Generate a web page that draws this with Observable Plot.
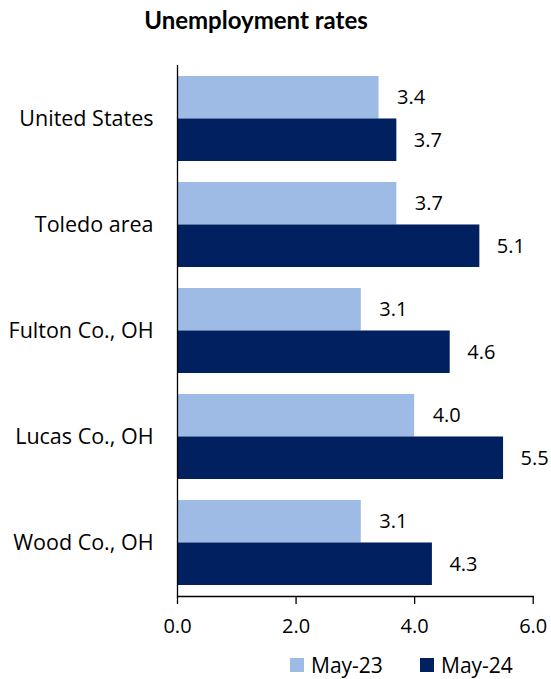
<!DOCTYPE html>
<html>
<head>
<meta charset="utf-8">
<script src="https://cdn.jsdelivr.net/npm/d3@7"></script>
<script src="https://cdn.jsdelivr.net/npm/@observablehq/plot@0.6"></script>
<style>
  body { margin: 0; background: #fff; }
  #wrap { position: relative; width: 551px; height: 679px; background: #fff; }
  #title { position: absolute; left: 0; top: 0; width: 512px; text-align: center;
           font-family: Lato, sans-serif; font-weight: bold; font-size: 24px; line-height: 40px; color: #000; }
  #chart { position: absolute; left: 0; top: 50px; }
  #legend { position: absolute; left: 0; top: 650px; width: 551px; height: 30px;
            font-family: "Open Sans", sans-serif; font-size: 21px; color: #000; }
  .item { position: absolute; top: 0; height: 30px; line-height: 30px; display: flex; align-items: center; }
  .sw { width: 14px; height: 14px; margin-right: 7px; }
</style>
</head>
<body>
<div id="wrap">
  <div id="title">Unemployment rates</div>
  <div id="chart"></div>
  <div id="legend"></div>
</div>
<script>
const categories = ["United States", "Toledo area", "Fulton Co., OH", "Lucas Co., OH", "Wood Co., OH"];
const series = ["May-23", "May-24"];
const may23 = [3.4, 3.7, 3.1, 4.0, 3.1];
const may24 = [3.7, 5.1, 4.6, 5.5, 4.3];
const xTicks = [0, 2, 4, 6];
const colors = ["#9dbbe4", "#002060"];

const data23 = categories.map((c, i) => ({area: c, series: series[0], value: may23[i]}));
const data24 = categories.map((c, i) => ({area: c, series: series[1], value: may24[i]}));

const W = 551, H = 600, mt = 15, mb = 54, ml = 177, mr = 18.3;
const pInner = 0.2, pOuter = 0.1;
const step = (H - mt - mb) / (categories.length - pInner + 2 * pOuter);
const bw = step * (1 - pInner);
const half = bw / 2;

const chart = Plot.plot({
  width: W, height: H,
  marginTop: mt, marginBottom: mb, marginLeft: ml, marginRight: mr,
  style: {fontFamily: "'Open Sans', sans-serif", fontSize: "20px", color: "#000", background: "#fff"},
  x: {domain: [0, 6], axis: null},
  y: {domain: categories, paddingInner: pInner, paddingOuter: pOuter, axis: null},
  marks: [
    Plot.barX(data23, {x: "value", y: "area", fill: colors[0], insetBottom: half}),
    Plot.barX(data24, {x: "value", y: "area", fill: colors[1], insetTop: half}),
    Plot.text(data23, {x: "value", y: "area", text: d => d.value.toFixed(1), textAnchor: "start", dx: 18, dy: -half / 2, fill: "#000"}),
    Plot.text(data24, {x: "value", y: "area", text: d => d.value.toFixed(1), textAnchor: "start", dx: 17, dy: half / 2, fill: "#000"}),
    Plot.ruleX([0], {stroke: "#000", strokeWidth: 1.3}),
    Plot.frame({anchor: "bottom", stroke: "#000", strokeWidth: 1.3}),
    Plot.axisX({ticks: xTicks, tickFormat: d3.format(".1f"), tickSize: 8, tickPadding: 14, stroke: "#000", strokeWidth: 1.3, label: null, fill: "#000"}),
    Plot.axisY({tickSize: 0, tickPadding: 24, label: null, fill: "#000", fontSize: 21.5})
  ]
});
document.getElementById("chart").appendChild(chart);

const legend = document.getElementById("legend");
const lefts = [290, 420];
series.forEach((s, i) => {
  const item = document.createElement("div");
  item.className = "item";
  item.style.left = lefts[i] + "px";
  const sw = document.createElement("span");
  sw.className = "sw";
  sw.style.background = colors[i];
  const label = document.createElement("span");
  label.textContent = s;
  item.appendChild(sw);
  item.appendChild(label);
  legend.appendChild(item);
});
</script>
</body>
</html>
